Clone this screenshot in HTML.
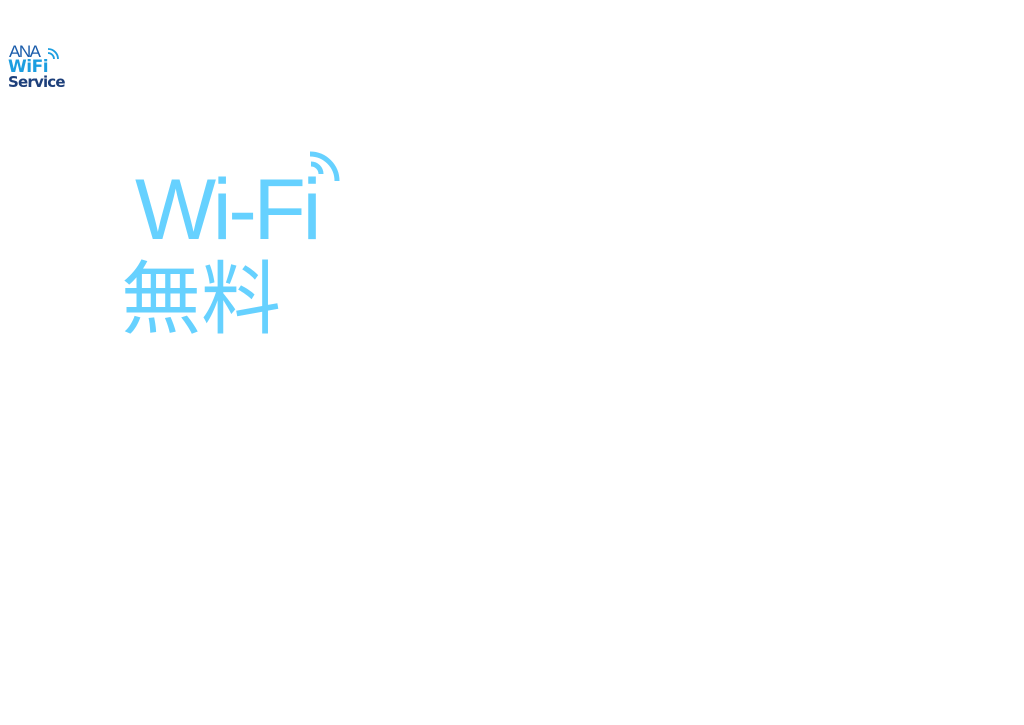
<!DOCTYPE html>
<html><head><meta charset="utf-8"><style>
html,body{margin:0;padding:0;background:#fff;width:1024px;height:725px;overflow:hidden;position:relative}
.t{position:absolute;white-space:nowrap;line-height:1}
</style></head><body>
<div class="t" style="left:9px;top:42px;font:17px 'Liberation Sans',sans-serif;color:#1a5cab;letter-spacing:-1.5px">ANA</div>
<div class="t" style="left:8px;top:57px;font:bold 17px 'DejaVu Sans',sans-serif;color:#1c9ee0;letter-spacing:-0.5px">WiFi</div>
<div class="t" style="left:8px;top:73px;font:bold 15px 'DejaVu Sans',sans-serif;color:#1d3f7a;letter-spacing:-0.8px">Service</div>
<svg style="position:absolute;left:46px;top:48px" width="16" height="16">
<path d="M2 5 A6 6 0 0 1 8 11" stroke="#1c9ee0" stroke-width="1.8" fill="none"/>
<path d="M2 1 A10 10 0 0 1 12 11" stroke="#1c9ee0" stroke-width="1.8" fill="none"/>
</svg>
<div class="t" style="left:135px;top:161px;font:86px 'Liberation Sans',sans-serif;color:#66d1ff;letter-spacing:-3.5px">Wi-Fi</div>
<svg style="position:absolute;left:300px;top:148px" width="45" height="45">
<path d="M11 16 A10 10 0 0 1 21 26" stroke="#66d1ff" stroke-width="5" fill="none"/>
<path d="M10 6 A27 27 0 0 1 37 33" stroke="#66d1ff" stroke-width="5" fill="none"/>
</svg>
<div class="t" style="left:121px;top:235px;font:80px 'Noto Sans CJK JP',sans-serif;color:#66d1ff">無料</div>
</body></html>
